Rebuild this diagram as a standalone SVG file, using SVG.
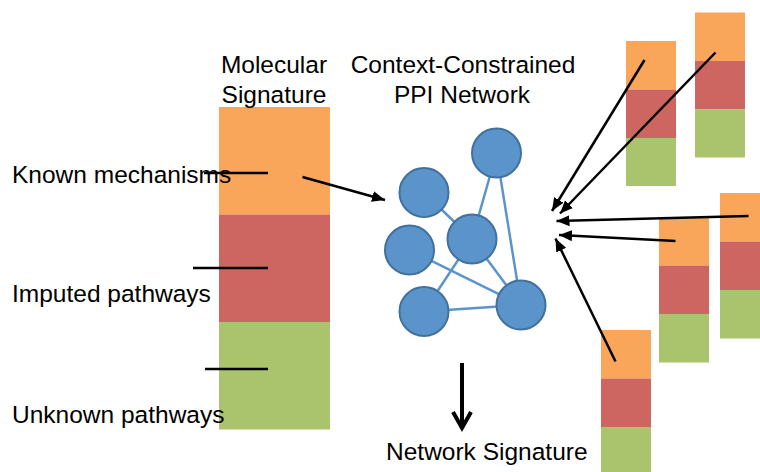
<svg xmlns="http://www.w3.org/2000/svg" width="760" height="472" viewBox="0 0 760 472">
<defs>
<style>
.t{font-family:"Liberation Sans",Arial,sans-serif;font-size:24.5px;fill:#000}
.o{fill:#F9A65A}
.r{fill:#CD6660}
.g{fill:#A9C46C}
.ln{stroke:#000;stroke-width:2.5;fill:none}
.ar{stroke:#000;stroke-width:2.5;fill:none;marker-end:url(#ah)}
.e{stroke:#5B94CB;stroke-width:2.5}
.n{fill:#5B94CB;stroke:#41719C;stroke-width:2}
</style>
<marker id="ah" markerUnits="userSpaceOnUse" markerWidth="14" markerHeight="12" refX="13" refY="5.5" orient="auto" viewBox="0 0 14 11">
<path d="M0,0 L13,5.5 L0,11 z" fill="#000"/>
</marker>
</defs>
<rect width="760" height="472" fill="#fff"/>

<g id="molecular-signature">
<rect class="o" x="219" y="107" width="111" height="107.5"/>
<rect class="r" x="219" y="214.5" width="111" height="107.5"/>
<rect class="g" x="219" y="322" width="111" height="107.5"/>
<text class="t" x="274" y="73" text-anchor="middle">Molecular</text>
<text class="t" x="274" y="103" text-anchor="middle">Signature</text>
</g>

<g id="labels">
<text class="t" x="12" y="183">Known mechanisms</text>
<text class="t" x="12" y="302">Imputed pathways</text>
<text class="t" x="12" y="423">Unknown pathways</text>
</g>

<g id="sig-bar-a">
<rect class="o" x="626" y="41" width="50" height="48.5"/>
<rect class="r" x="626" y="89.5" width="50" height="48.5"/>
<rect class="g" x="626" y="138" width="50" height="48"/>
</g>
<g id="sig-bar-b">
<rect class="o" x="695" y="12.5" width="50" height="48.5"/>
<rect class="r" x="695" y="61" width="50" height="48.5"/>
<rect class="g" x="695" y="109.5" width="50" height="48"/>
</g>
<g id="sig-bar-c">
<rect class="o" x="659" y="217" width="50" height="48.5"/>
<rect class="r" x="659" y="265.5" width="50" height="48.5"/>
<rect class="g" x="659" y="314" width="50" height="48.5"/>
</g>
<g id="sig-bar-d">
<rect class="o" x="720" y="193" width="50" height="48.5"/>
<rect class="r" x="720" y="241.5" width="50" height="48.5"/>
<rect class="g" x="720" y="290" width="50" height="48.5"/>
</g>
<g id="sig-bar-e">
<rect class="o" x="601" y="330" width="50" height="48.5"/>
<rect class="r" x="601" y="378.5" width="50" height="48.5"/>
<rect class="g" x="601" y="427" width="50" height="48.5"/>
</g>

<g id="ppi-network">
<text class="t" x="463" y="73" text-anchor="middle">Context-Constrained</text>
<text class="t" x="462" y="103" text-anchor="middle">PPI Network</text>
<g id="ppi-edges">
<line class="e" x1="496.5" y1="153" x2="472" y2="239"/>
<line class="e" x1="496.5" y1="153" x2="521" y2="305"/>
<line class="e" x1="424" y1="192.5" x2="472" y2="239"/>
<line class="e" x1="409.5" y1="250" x2="521" y2="305"/>
<line class="e" x1="472" y1="239" x2="521" y2="305"/>
<line class="e" x1="472" y1="239" x2="424" y2="311.5"/>
<line class="e" x1="424" y1="311.5" x2="521" y2="305"/>
</g>
<circle id="p1" class="n" cx="496.5" cy="153" r="24.5"/>
<circle id="p2" class="n" cx="424" cy="192.5" r="24.5"/>
<circle id="p3" class="n" cx="472" cy="239" r="24.5"/>
<circle id="p4" class="n" cx="409.5" cy="250" r="24.5"/>
<circle id="p5" class="n" cx="424" cy="311.5" r="24.5"/>
<circle id="p6" class="n" cx="521" cy="305" r="24.5"/>
</g>

<g id="network-signature">
<text class="t" x="386" y="460">Network Signature</text>
</g>

<g id="connectors">
<line class="ln" x1="204" y1="173" x2="268" y2="173"/>
<line class="ln" x1="193" y1="268" x2="268" y2="268"/>
<line class="ln" x1="205" y1="369" x2="268" y2="369"/>
<line class="ar" x1="302.5" y1="177" x2="385" y2="200"/>
<line class="ar" x1="644.5" y1="60" x2="552" y2="211"/>
<line class="ar" x1="715.5" y1="52.5" x2="560" y2="213.5"/>
<line class="ar" x1="748.5" y1="216" x2="556.5" y2="221"/>
<line class="ar" x1="675.5" y1="241" x2="559" y2="235"/>
<line class="ar" x1="615.5" y1="361.5" x2="555.5" y2="238.5"/>
<line x1="462" y1="363" x2="462" y2="427" stroke="#000" stroke-width="4"/>
<path d="M453,412 L462,428 L471,412" fill="none" stroke="#000" stroke-width="4" stroke-linejoin="miter"/>
</g>
</svg>
